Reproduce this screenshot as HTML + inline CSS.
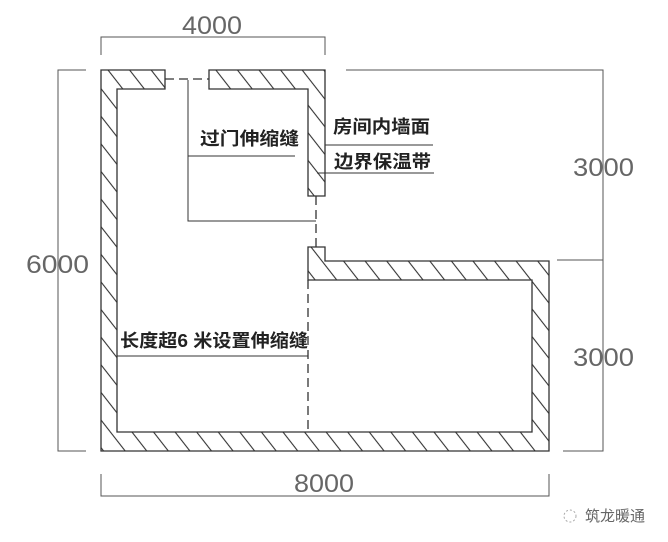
<!DOCTYPE html>
<html><head><meta charset="utf-8"><style>html,body{margin:0;padding:0;background:#fff}svg{display:block}</style></head>
<body>
<svg width="668" height="542" viewBox="0 0 668 542" xmlns="http://www.w3.org/2000/svg">
<defs>
<pattern id="h" patternUnits="userSpaceOnUse" width="17" height="40" patternTransform="rotate(-38)">
<line x1="8" y1="0" x2="8" y2="40" stroke="#333" stroke-width="1.1"/>
</pattern>
</defs>
<g fill="url(#h)">
<path fill-rule="evenodd" d="M165,70 L101,70 L101,451 L549,451 L549,261 L325,261 L325,247 L308,247 L308,280 L532,280 L532,432 L117,432 L117,89 L165,89 Z"/>
<path d="M209,70 L325,70 L325,196 L308,196 L308,89 L209,89 Z"/>
</g>
<g fill="none" stroke="#333" stroke-width="1.3">
<path d="M165,70 L101,70 L101,451 L549,451 L549,261 L325,261 L325,247 L308,247 L308,280 L532,280 L532,432 L117,432 L117,89 L165,89 Z"/>
<path d="M209,70 L325,70 L325,196 L308,196 L308,89 L209,89 Z"/>
</g>
<g stroke="#333" stroke-width="1.3" fill="none" stroke-dasharray="9,5">
<line x1="165" y1="79" x2="209" y2="79"/>
<line x1="316" y1="196" x2="316" y2="247"/>
<line x1="308" y1="280" x2="308" y2="432"/>
</g>
<g stroke="#333" stroke-width="1" fill="none">
<polyline points="188,80 188,221 316,221"/>
<line x1="188" y1="156" x2="295" y2="156"/>
<line x1="325" y1="145" x2="433" y2="145"/>
<line x1="317" y1="173" x2="434" y2="173"/>
<line x1="117" y1="356" x2="308" y2="356"/>
</g>
<g stroke="#555" stroke-width="1" fill="none">
<polyline points="101,55 101,37 325,37 325,55"/>
<polyline points="101,474 101,496 549,496 549,474"/>
<polyline points="86,70 58,70 58,451 86,451"/>
<polyline points="346,70 603,70 603,451 563,451"/>
<line x1="557" y1="260" x2="603" y2="260"/>
</g>
<g font-family="'Liberation Sans','Noto Sans CJK SC',sans-serif" font-size="25" fill="#666">
<text x="182" y="34" textLength="60" lengthAdjust="spacingAndGlyphs">4000</text>
<text x="294" y="492" textLength="60" lengthAdjust="spacingAndGlyphs">8000</text>
<text x="26" y="273" textLength="63" lengthAdjust="spacingAndGlyphs">6000</text>
<text x="573" y="176" textLength="61" lengthAdjust="spacingAndGlyphs">3000</text>
<text x="573" y="366" textLength="61" lengthAdjust="spacingAndGlyphs">3000</text>
</g>
<g font-family="'Liberation Sans','Noto Sans CJK SC',sans-serif" font-size="18" font-weight="bold" fill="#222">
<text x="200" y="145" textLength="99" lengthAdjust="spacingAndGlyphs">过门伸缩缝</text>
<text x="333" y="133" textLength="97" lengthAdjust="spacingAndGlyphs">房间内墙面</text>
<text x="334" y="168" textLength="97" lengthAdjust="spacingAndGlyphs">边界保温带</text>
<text x="120" y="347" textLength="188" lengthAdjust="spacingAndGlyphs">长度超6 米设置伸缩缝</text>
</g>
<text x="585" y="521" font-family="'Liberation Sans','Noto Sans CJK SC',sans-serif" font-size="15" fill="#666">筑龙暖通</text>
<circle cx="570" cy="516" r="6" fill="none" stroke="#aaa" stroke-dasharray="2,2"/>
</svg>
</body></html>
